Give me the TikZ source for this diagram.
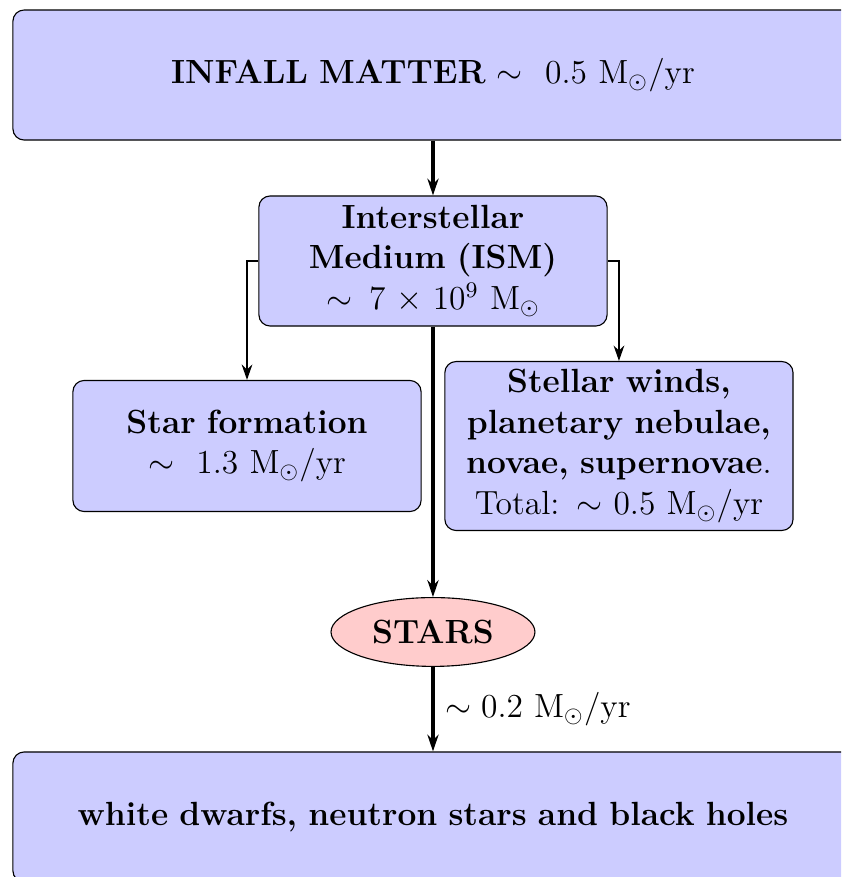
\documentclass[tikz,border=0pt,12pt]{standalone}
\usepackage{amssymb,amsmath}
\usetikzlibrary{arrows.meta,shapes.geometric}
\definecolor{boxBlue}{RGB}{204,204,255}
\definecolor{starPink}{RGB}{255,204,204}
\tikzset{
  block/.style={rectangle,rounded corners=4pt,draw=black,fill=boxBlue,text width=4.10cm,align=center,inner xsep=0.333em,inner ysep=2pt},
  wideblock/.style={block,text width=10.29cm,minimum height=1.636cm},
  starblob/.style={ellipse,draw=black,fill=starPink,minimum width=2.566cm,minimum height=0.866cm,inner sep=0pt},
  mainflow/.style={very thick,-{Stealth[length=6pt,width=4pt]}},
  sideflow/.style={thick,-{Stealth[length=5.5pt,width=3.8pt]}}
}
\begin{document}
\begin{tikzpicture}
\useasboundingbox (0,0) rectangle (10.582,-11.035);
\clip (0,0) rectangle (10.582,-11.035);
% boxes
\node[wideblock] (infall) at (5.448,-0.944) {\textbf{INFALL MATTER} $\sim$~ 0.5 M$_\odot$/yr};
\node[block,minimum height=1.636cm] (ism) at (5.448,-3.284) {\textbf{Interstellar Medium (ISM)}\\ $\sim 7\times10^9$ M$_\odot$};
\node[block,minimum height=1.649cm] (sf) at (3.108,-5.612) {\textbf{Star formation}\\ $\sim$~ 1.3 M$_\odot$/yr};
\node[block,minimum height=2.126cm] (winds) at (7.788,-5.612) {\textbf{Stellar winds, planetary nebulae, novae, supernovae}.\\ Total: $\sim$ 0.5 M$_\odot$/yr};
\node[starblob] (stars) at (5.448,-7.952) {\textbf{STARS}};
\node[wideblock] (remnants) at (5.448,-10.280) {\textbf{white dwarfs, neutron stars and black holes}};
% flows
\draw[mainflow] (infall) -- (ism);
\draw[sideflow] (ism.west) -| (sf.north);
\draw[sideflow] (ism.east) -| (winds.north);
\draw[mainflow] (ism) -- (stars);
\draw[mainflow] (stars) -- node[right] {$\sim 0.2$ M$_\odot$/yr} (remnants);
\end{tikzpicture}
\end{document}
